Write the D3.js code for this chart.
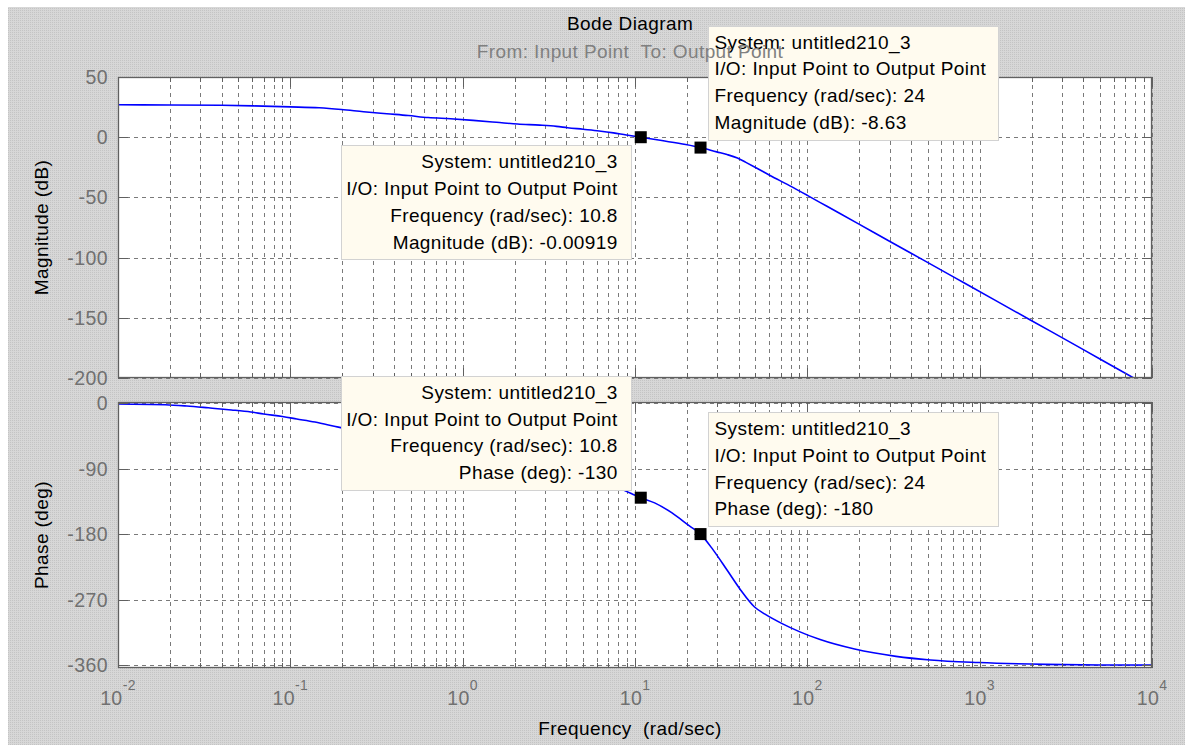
<!DOCTYPE html>
<html><head><meta charset="utf-8">
<script src="https://cdn.jsdelivr.net/npm/d3@7"></script>
<style>html,body{margin:0;padding:0;background:#fff;overflow:hidden}</style>
</head><body>
<svg id="chart" width="1185" height="745"></svg>
<script>
// ---- data ----
const magFreq = [0.01, 0.02, 0.04, 0.061, 0.1, 0.147, 0.198, 0.266, 0.363, 0.483, 0.63, 0.85, 1.15, 1.57, 2.08, 2.8, 3.5, 4.06, 5.0, 6.2, 7.5, 8.9, 10.8, 14.3, 19.7, 24, 29.8, 34.2, 39.3, 44, 49.4, 60.8, 78.3, 100, 130, 197, 298, 472, 820, 1968, 3927, 7834, 10000];
const magDb   = [26.9, 26.8, 26.5, 26.0, 25.2, 24.4, 23.0, 21.2, 19.5, 18.0, 16.3, 15.3, 14.0, 12.4, 10.9, 10.0, 9.0, 7.9, 6.6, 5.2, 3.6, 1.8, -0.009, -2.8, -6.1, -8.63, -12.2, -14.4, -17.3, -20.9, -24.7, -31.8, -40.0, -48.3, -57.4, -71.8, -86.2, -102.1, -121.3, -151.8, -175.8, -200, -208.4];
const phaseFreq = [0.01, 0.0188, 0.0251, 0.0334, 0.0455, 0.059, 0.07, 0.09, 0.109, 0.139, 0.19, 0.3, 0.5, 1, 2, 3, 5, 7, 9.57, 10.8, 13.0, 16.4, 20.6, 24, 28.4, 34.2, 41.1, 49.4, 56.8, 71.4, 89.9, 118.6, 188, 327, 518, 986, 2421, 5000, 10000];
const phaseDeg  = [-1.2, -2.2, -4.0, -6.5, -9.4, -12.3, -15, -18.5, -21.8, -26, -33, -42, -51, -62, -75, -84, -99, -111, -124.5, -130, -137.1, -150.9, -168.5, -180, -201.7, -229.4, -257.1, -280.2, -290, -303, -314, -325, -338, -348, -353, -356.5, -359, -359.8, -360];
const magTicks = [50, 0, -50, -100, -150, -200];
const phaseTicks = [0, -90, -180, -270, -360];
const systemName = "untitled210_3";
const tips = [
  {panel: "mag",   freq: 10.8, value: -0.00919, freqText: "10.8", valueText: "-0.00919", label: "Magnitude (dB)", place: "below-left"},
  {panel: "mag",   freq: 24,   value: -8.63,    freqText: "24",   valueText: "-8.63",    label: "Magnitude (dB)", place: "above-right"},
  {panel: "phase", freq: 10.8, value: -130,     freqText: "10.8", valueText: "-130",     label: "Phase (deg)",    place: "above-left"},
  {panel: "phase", freq: 24,   value: -180,     freqText: "24",   valueText: "-180",     label: "Phase (deg)",    place: "above-right"}
];

// ---- layout ----
const FONT = "'Liberation Sans', Arial, Helvetica, sans-serif";
const L = 118, R = 1152;
const magTop = 77, magBot = 378, phTop = 402, phBot = 668;

const svg = d3.select("#chart");
const defs = svg.append("defs");
const pat = defs.append("pattern").attr("id", "dots").attr("width", 2).attr("height", 2).attr("patternUnits", "userSpaceOnUse");
pat.append("rect").attr("width", 2).attr("height", 2).attr("fill", "#d7d7d7");
pat.append("rect").attr("width", 1).attr("height", 1).attr("fill", "#c4c4c4");

svg.append("rect").attr("width", 1185).attr("height", 745).attr("fill", "#ffffff");
svg.append("rect").attr("x", 8).attr("y", 7).attr("width", 1177).attr("height", 738).attr("fill", "url(#dots)");

const x = d3.scaleLog().domain([1e-2, 1e4]).range([L, R]);
const yMag = d3.scaleLinear().domain([-200, 50]).range([magBot, magTop]);
const yPh = d3.scaleLinear().domain([-364, 1.5]).range([phBot, phTop]);

const xTickVals = x.ticks();
const isMajor = v => Math.abs(Math.log10(v) - Math.round(Math.log10(v))) < 1e-9;

function panel(id, yScale, top, bot, yTicks, freq, vals) {
  const g = svg.append("g");
  g.append("rect").attr("x", L).attr("y", top).attr("width", R - L).attr("height", bot - top).attr("fill", "#ffffff");
  defs.append("clipPath").attr("id", "clip-" + id).append("rect")
    .attr("x", L).attr("y", top).attr("width", R - L).attr("height", bot - top);
  // grid
  const grid = g.append("g").attr("stroke", "#7a7a7a").attr("stroke-width", 1).attr("stroke-dasharray", "4,4").attr("fill", "none");
  xTickVals.forEach(v => {
    const px = Math.round(x(v)) + 0.5;
    grid.append("line").attr("x1", px).attr("x2", px).attr("y1", top).attr("y2", bot);
  });
  yTicks.forEach(v => {
    const py = Math.round(yScale(v)) + 0.5;
    grid.append("line").attr("x1", L).attr("x2", R).attr("y1", py).attr("y2", py);
  });
  // curve
  const line = d3.line().x((d, i) => x(freq[i])).y(d => yScale(d)).curve(d3.curveMonotoneX);
  g.append("path").datum(vals).attr("d", line).attr("fill", "none")
    .attr("stroke", "#0000ff").attr("stroke-width", 1.6).attr("clip-path", "url(#clip-" + id + ")");
  // ticks
  const tk = g.append("g").attr("stroke", "#606060").attr("stroke-width", 1);
  xTickVals.forEach(v => {
    const px = Math.round(x(v)) + 0.5, len = isMajor(v) ? 10 : 5;
    tk.append("line").attr("x1", px).attr("x2", px).attr("y1", top).attr("y2", top + len);
    tk.append("line").attr("x1", px).attr("x2", px).attr("y1", bot).attr("y2", bot - len);
  });
  yTicks.forEach(v => {
    const py = Math.round(yScale(v)) + 0.5;
    tk.append("line").attr("x1", L).attr("x2", L + 10).attr("y1", py).attr("y2", py);
    tk.append("line").attr("x1", R).attr("x2", R - 10).attr("y1", py).attr("y2", py);
    g.append("text").attr("x", L - 10).attr("y", yScale(v)).attr("dy", "0.36em")
      .attr("text-anchor", "end").attr("font-family", FONT).attr("font-size", 19.5)
      .attr("letter-spacing", 0.4).attr("fill", "#707070").text(v);
  });
  g.append("rect").attr("x", L + 0.5).attr("y", top + 0.5).attr("width", R - L - 1).attr("height", bot - top - 1)
    .attr("fill", "none").attr("stroke", "#606060").attr("stroke-width", 1.3);
  return g;
}

panel("mag", yMag, magTop, magBot, magTicks, magFreq, magDb);
panel("ph", yPh, phTop, phBot, phaseTicks, phaseFreq, phaseDeg);

// x tick labels (bottom panel only)
xTickVals.filter(isMajor).forEach(v => {
  const t = svg.append("text").attr("x", x(v)).attr("y", 705).attr("text-anchor", "middle")
    .attr("font-family", FONT).attr("font-size", 19.5).attr("letter-spacing", 0.4).attr("fill", "#707070");
  t.append("tspan").text("10");
  t.append("tspan").attr("dy", -15).attr("font-size", 14).text(Math.round(Math.log10(v)));
});

// axis labels
const txt = (xx, yy, s, opts = {}) => svg.append("text").attr("x", xx).attr("y", yy)
  .attr("text-anchor", opts.anchor || "middle").attr("font-family", FONT)
  .attr("font-size", opts.size || 19).attr("letter-spacing", 0.4)
  .attr("fill", opts.fill || "#000").text(s);

txt(630, 735, "Frequency\u00a0\u00a0(rad/sec)");
svg.append("text").attr("transform", `translate(48,${(magTop + magBot) / 2}) rotate(-90)`)
  .attr("text-anchor", "middle").attr("font-family", FONT).attr("font-size", 19).attr("letter-spacing", 0.4)
  .attr("fill", "#000").text("Magnitude (dB)");
svg.append("text").attr("transform", `translate(48,${(phTop + phBot) / 2}) rotate(-90)`)
  .attr("text-anchor", "middle").attr("font-family", FONT).attr("font-size", 19).attr("letter-spacing", 0.4)
  .attr("fill", "#000").text("Phase (deg)");

// markers and datatips
const BW = 290, BH = 114, OFF = 8;
tips.forEach(tp => {
  const ys = tp.panel === "mag" ? yMag : yPh;
  const mx = x(tp.freq), my = ys(tp.value);
  svg.append("rect").attr("x", mx - 6).attr("y", my - 6).attr("width", 12).attr("height", 12).attr("fill", "#000");
  let bx, by, align;
  if (tp.place === "below-left") { bx = mx - 10 - BW; by = my + OFF; align = "right"; }
  else if (tp.place === "above-left") { bx = mx - 10 - BW; by = my - OFF - BH; align = "right"; }
  else { bx = mx + 7; by = my - OFF - BH; align = "left"; }
  svg.append("rect").attr("x", Math.round(bx) + 0.5).attr("y", Math.round(by) + 0.5).attr("width", BW).attr("height", BH)
    .attr("fill", "#fffbef").attr("stroke", "#d2d2d2").attr("stroke-width", 1);
  const lines = ["System: " + systemName, "I/O: Input Point to Output Point",
    "Frequency (rad/sec): " + tp.freqText, tp.label + ": " + tp.valueText];
  lines.forEach((s, i) => {
    txt(align === "right" ? bx + BW - 13 : bx + 7, by + 23 + i * 26.8, s, {anchor: align === "right" ? "end" : "start"});
  });
});

// title and subtitle (subtitle drawn over the datatip, as in the reference)
txt(630, 30, "Bode Diagram");
txt(630, 58, "From: Input Point\u00a0\u00a0To: Output Point", {fill: "#808080"});
</script>
</body></html>
